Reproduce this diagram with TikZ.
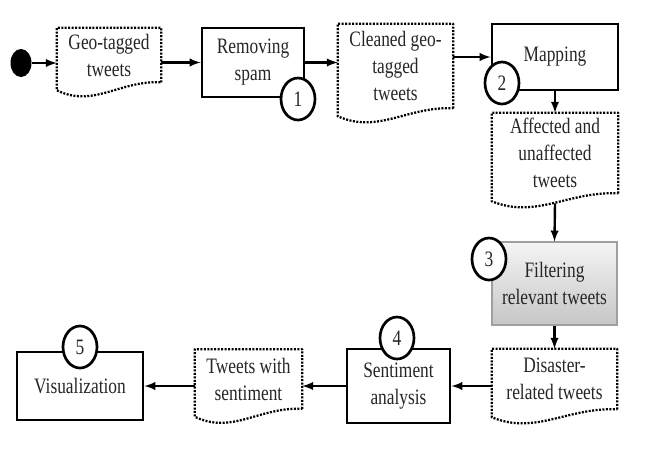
\documentclass[tikz,border=0pt]{standalone}
\usepackage{fontspec}
\setmainfont{Liberation Serif}[FakeStretch=0.79]
\usetikzlibrary{shapes.geometric,calc}

\newcommand{\docshape}[1]{%
  \draw[docline] (#1.south east) -- (#1.north east) -- (#1.north west) -- ($(#1.south west)+(0,8)$)
    .. controls ($(#1.south west)!0.35!(#1.south east)+(0,26)$) and ($(#1.south west)!0.6!(#1.south east)+(0,-2)$) .. (#1.south east);}

\begin{document}
\begin{tikzpicture}[x=0.75pt, y=-0.75pt,
    every node/.style={font=\fontsize{16.5}{20.25}\selectfont, text=black!85, align=center},
    box/.style={rectangle, draw, line width=2.2pt},
    doc/.style={rectangle, inner sep=0pt},
    docline/.style={line width=1.7pt, dash pattern=on 1.5pt off 1.1pt, line join=round},
    stepnum/.style={ellipse, draw, fill=white, line width=2pt, minimum width=25.5pt, minimum height=31.5pt, inner sep=0pt},
    flow/.style={-latex, line width=1.8pt}]
  \useasboundingbox (0,0) rectangle (650,450);

  \node[ellipse, fill=black, minimum width=15.75pt, minimum height=21pt, inner sep=0pt] (start) at (21,63) {};
  \node[doc, minimum width=78pt,    minimum height=40.5pt] (geo)      at (109,55)    {Geo-tagged\\tweets};
  \node[box, minimum width=76.5pt,  minimum height=51.75pt] (spam)    at (253,62.5)  {Removing\\spam};
  \node[doc, minimum width=86.25pt, minimum height=63pt] (clean)      at (395.5,66)  {Cleaned geo-\\tagged\\tweets};
  \node[box, minimum width=94.5pt,  minimum height=49.5pt] (mapping)  at (555,57)    {Mapping};
  \node[doc, minimum width=94.5pt,  minimum height=60pt] (affected)   at (555,153)   {Affected and\\unaffected\\tweets};
  \node[box, draw=gray!75, line width=0.8pt, top color=gray!8, bottom color=gray!45,
        minimum width=93.75pt, minimum height=62.25pt] (filter)     at (554.5,283.5) {Filtering\\relevant tweets};
  \node[doc, minimum width=93.75pt, minimum height=45pt] (disaster)   at (554.5,379) {Disaster-\\related tweets};
  \node[box, minimum width=77.25pt, minimum height=55.5pt] (senti)    at (398.5,386) {Sentiment\\analysis};
  \node[doc, minimum width=80.25pt, minimum height=44.25pt] (withsent) at (248.5,379) {Tweets with\\sentiment};
  \node[box, minimum width=94.5pt,  minimum height=51pt] (vis)        at (80,386)    {Visualization};

  \docshape{geo}
  \docshape{clean}
  \docshape{affected}
  \docshape{disaster}
  \docshape{withsent}

  \draw[flow] (start.east) -- (start.east -| geo.west);
  \draw[flow] (geo.east |- spam.west) -- (spam.west);
  \draw[flow] (spam.east) -- (spam.east -| clean.west);
  \draw[flow] (clean.east |- mapping.west) -- (mapping.west);
  \draw[flow] (mapping.south) -- (affected.north);
  \draw[flow] ($(affected.south)+(0,10)$) -- (filter.north);
  \draw[flow] (filter.south) -- (disaster.north);
  \draw[flow] (disaster.west |- senti.east) -- (senti.east);
  \draw[flow] (senti.west) -- (senti.west -| withsent.east);
  \draw[flow] (withsent.west |- vis.east) -- (vis.east);

  \node[stepnum] (s1) at (298,99)  {1};
  \node[stepnum] (s2) at (502,83)  {2};
  \node[stepnum] (s3) at (489,259) {3};
  \node[stepnum] (s4) at (397,338) {4};
  \node[stepnum] (s5) at (80,347)  {5};
\end{tikzpicture}
\end{document}
